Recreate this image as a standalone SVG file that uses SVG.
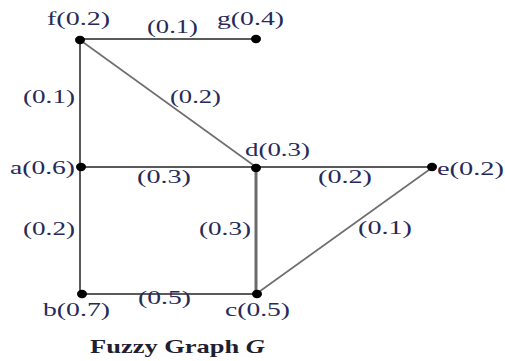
<svg xmlns="http://www.w3.org/2000/svg" width="505" height="361" viewBox="0 0 505 361">
<style>
.lbl{font-family:"Liberation Serif","Times New Roman",serif;font-size:18px;fill:#272a58}
.title{font-family:"Liberation Serif","Times New Roman",serif;font-size:19px;font-weight:bold;fill:#1e2030}
.e{stroke:#5a5a5a;stroke-width:2;fill:none}
.ed{stroke:#6e6e6e;stroke-width:1.6;fill:none}
.dot{fill:#000}
</style>
<rect width="505" height="361" fill="#fff"/>
<g id="connectors">
<line class="e" x1="80" y1="39" x2="256" y2="39"/>
<line class="e" x1="80" y1="39" x2="80" y2="294"/>
<line class="ed" x1="80" y1="40" x2="256" y2="167"/>
<line class="e" x1="80" y1="167" x2="433" y2="167"/>
<line class="e" x1="256" y1="167" x2="256" y2="294" style="stroke-width:3;stroke:#6a6a6a"/>
<line class="e" x1="80" y1="294" x2="256" y2="294"/>
<line class="ed" x1="256" y1="294" x2="433" y2="167"/>
<g id="edge-labels">
<text class="lbl" x="147" y="33" textLength="51" lengthAdjust="spacingAndGlyphs">(0.1)</text>
<text class="lbl" x="23" y="103" textLength="52" lengthAdjust="spacingAndGlyphs">(0.1)</text>
<text class="lbl" x="170" y="103" textLength="51" lengthAdjust="spacingAndGlyphs">(0.2)</text>
<text class="lbl" x="137" y="183" textLength="54" lengthAdjust="spacingAndGlyphs">(0.3)</text>
<text class="lbl" x="318" y="183" textLength="54" lengthAdjust="spacingAndGlyphs">(0.2)</text>
<text class="lbl" x="23" y="235" textLength="52" lengthAdjust="spacingAndGlyphs">(0.2)</text>
<text class="lbl" x="199" y="235" textLength="52" lengthAdjust="spacingAndGlyphs">(0.3)</text>
<text class="lbl" x="358" y="234" textLength="54" lengthAdjust="spacingAndGlyphs">(0.1)</text>
<text class="lbl" x="138" y="304" textLength="53" lengthAdjust="spacingAndGlyphs">(0.5)</text>
</g>
</g>
<g id="node-f"><ellipse class="dot" cx="80" cy="40" rx="5" ry="4.2"/><text class="lbl" x="47" y="25" textLength="63" lengthAdjust="spacingAndGlyphs">f(0.2)</text></g>
<g id="node-g"><ellipse class="dot" cx="256" cy="39" rx="5" ry="4.2"/><text class="lbl" x="217" y="25" textLength="67" lengthAdjust="spacingAndGlyphs">g(0.4)</text></g>
<g id="node-a"><ellipse class="dot" cx="81" cy="167" rx="5" ry="4.2"/><text class="lbl" x="10" y="174" textLength="65" lengthAdjust="spacingAndGlyphs">a(0.6)</text></g>
<g id="node-d"><ellipse class="dot" cx="256" cy="168" rx="5" ry="4.2"/><text class="lbl" x="245" y="156" textLength="65" lengthAdjust="spacingAndGlyphs">d(0.3)</text></g>
<g id="node-e"><ellipse class="dot" cx="432" cy="167" rx="5" ry="4.2"/><text class="lbl" x="437" y="175" textLength="67" lengthAdjust="spacingAndGlyphs">e(0.2)</text></g>
<g id="node-b"><ellipse class="dot" cx="82" cy="294" rx="5" ry="4.2"/><text class="lbl" x="43" y="316" textLength="67" lengthAdjust="spacingAndGlyphs">b(0.7)</text></g>
<g id="node-c"><ellipse class="dot" cx="257" cy="294" rx="5" ry="4.2"/><text class="lbl" x="225" y="316" textLength="65" lengthAdjust="spacingAndGlyphs">c(0.5)</text></g>
<text class="title" x="90" y="353" textLength="175" lengthAdjust="spacingAndGlyphs">Fuzzy Graph <tspan font-style="italic">G</tspan></text>
</svg>
